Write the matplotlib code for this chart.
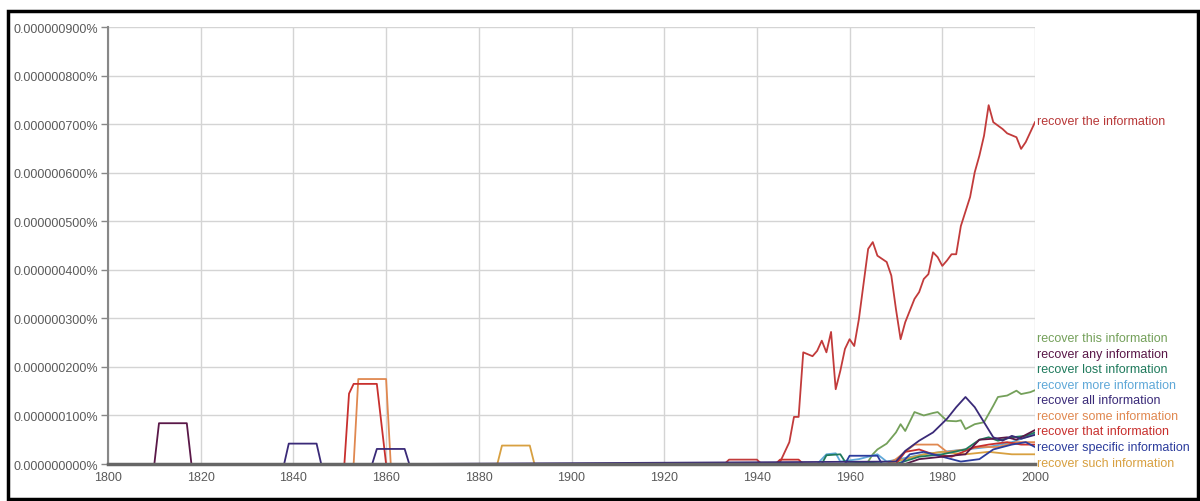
import matplotlib
matplotlib.use('Agg')
import matplotlib.pyplot as plt
from matplotlib.patches import Rectangle

plt.rcParams['font.family'] = ['Liberation Sans', 'DejaVu Sans']

# values in units of 1e-9 percent, (year, value) breakpoints
the_years = [1800, 1933, 1934, 1940, 1941, 1944, 1945, 1947, 1948, 1949, 1950, 1952, 1953, 1954, 1955,
             1956, 1957, 1958, 1959, 1960, 1961, 1962, 1964, 1965, 1966, 1968, 1969, 1970, 1971, 1972,
             1974, 1975, 1976, 1977, 1978, 1979, 1980, 1981, 1982, 1983, 1984, 1985, 1986, 1987, 1988,
             1989, 1990, 1991, 1993, 1994, 1996, 1997, 1998, 2000]
the_vals = [0, 0, 9, 9, 0, 0, 4, 45, 97, 97, 230, 222, 233, 254, 230,
            272, 154, 192, 237, 257, 243, 298, 443, 457, 429, 416, 388, 319, 257, 292,
            340, 354, 381, 391, 436, 426, 408, 419, 432, 432, 490, 520, 550, 601, 635,
            676, 739, 704, 690, 681, 673, 649, 663, 704]

this_years = [1800, 1963, 1964, 1965, 1966, 1968, 1970, 1971, 1972, 1974, 1976, 1978, 1979, 1981,
              1983, 1984, 1985, 1987, 1989, 1991, 1992, 1994, 1996, 1997, 1999, 2000]
this_vals = [0, 0, 5, 20, 30, 42, 65, 82, 68, 107, 100, 105, 107, 89,
             88, 90, 72, 82, 86, 120, 138, 141, 151, 144, 148, 152]

any_years = [1800, 1810, 1811, 1817, 1818, 1972, 1975, 1980, 1985, 1988, 1991, 1994, 1996, 1998, 2000]
any_vals = [0, 0, 84, 84, 0, 0, 10, 15, 20, 50, 52, 55, 50, 60, 70]

lost_years = [1800, 1954, 1955, 1958, 1959, 1970, 1975, 1980, 1985, 1988, 1990, 1992, 1995, 1998, 2000]
lost_vals = [0, 0, 18, 20, 5, 0, 15, 20, 30, 50, 55, 48, 55, 58, 65]

more_years = [1800, 1953, 1955, 1957, 1958, 1962, 1966, 1968, 1976, 1980, 1985, 1990, 1995, 2000]
more_vals = [0, 0, 20, 22, 5, 10, 20, 5, 20, 25, 30, 35, 45, 62]

all_years = [1800, 1838, 1839, 1845, 1846, 1857, 1858, 1864, 1865, 1970, 1972, 1975, 1978, 1981,
             1983, 1985, 1987, 1989, 1991, 1993, 1995, 1997, 2000]
all_vals = [0, 0, 42, 42, 0, 0, 31, 31, 0, 5, 27, 48, 65, 93,
            117, 138, 117, 86, 55, 48, 58, 52, 60]

some_years = [1800, 1853, 1854, 1860, 1861, 1968, 1970, 1974, 1979, 1981, 1985, 1988, 1992, 1996, 2000]
some_vals = [0, 0, 175, 175, 0, 0, 10, 40, 40, 25, 30, 35, 35, 45, 45]

that_years = [1800, 1851, 1852, 1853, 1858, 1860, 1944, 1945, 1949, 1950, 1970, 1972, 1975, 1978,
              1982, 1987, 1990, 1994, 1997, 2000]
that_vals = [0, 0, 145, 165, 165, 0, 0, 9, 9, 0, 0, 25, 30, 20,
             15, 35, 40, 45, 40, 40]

specific_years = [1800, 1959, 1960, 1966, 1967, 1971, 1973, 1976, 1980, 1984, 1988, 1991, 1995, 1998, 2000]
specific_vals = [0, 0, 17, 17, 0, 0, 20, 25, 15, 5, 10, 30, 40, 45, 35]

such_years = [1800, 1884, 1885, 1891, 1892, 1968, 1972, 1976, 1980, 1985, 1990, 1995, 2000]
such_vals = [0, 0, 38, 38, 0, 0, 10, 20, 25, 20, 25, 20, 20]

labels = ['recover this information', 'recover any information', 'recover lost information',
          'recover more information', 'recover all information', 'recover some information',
          'recover that information', 'recover specific information', 'recover such information']
colors = ['#74a05a', '#5a1848', '#1f7a5c', '#5fa8d8', '#3a2a78', '#e08850', '#c8302e', '#2c3c9c', '#d8a040']
series = [(this_years, this_vals), (any_years, any_vals), (lost_years, lost_vals),
          (more_years, more_vals), (all_years, all_vals), (some_years, some_vals),
          (that_years, that_vals), (specific_years, specific_vals), (such_years, such_vals)]

fig = plt.figure(figsize=(12, 5.02), dpi=100)
ax = fig.add_axes([0.09, 0.0737, 0.7725, 0.8705])

# red one underneath, darker ones drawn last so the zero line reads dark
ax.plot(the_years, the_vals, color='#c23b3b', lw=1.3)
draw_order = [0, 3, 8, 5, 6, 2, 7, 1, 4]
for i in draw_order:
    yrs, vals = series[i]
    ax.plot(yrs, vals, color=colors[i], lw=1.3)

ax.set_xlim(1800, 2000)
ax.set_ylim(0, 900)
ax.set_xticks(range(1800, 2001, 20))
ax.set_yticks(range(0, 901, 100))
ax.set_yticklabels(['%.9f%%' % (v * 1e-9) for v in range(0, 901, 100)])
ax.grid(True, color='#d4d4d4', lw=1)
ax.set_axisbelow(True)
for s in ['top', 'right']:
    ax.spines[s].set_visible(False)
ax.spines['left'].set_color('#888888')
ax.spines['left'].set_linewidth(1.5)
ax.spines['bottom'].set_color('#666666')
ax.spines['bottom'].set_linewidth(2.5)
ax.tick_params(axis='y', length=5, width=1, color='#888888', labelcolor='#5a5a5a', labelsize=9, pad=2)
ax.tick_params(axis='x', length=0, labelcolor='#5a5a5a', labelsize=9, pad=5)

# labels at the right end
ax.text(2000.5, 706, 'recover the information', color='#b83838', fontsize=9,
        va='center', ha='left', clip_on=False)
for i, (lab, c) in enumerate(zip(labels, colors)):
    ax.text(2000.5, 259 - i * 32, lab, color=c, fontsize=9, va='center', ha='left', clip_on=False)

# frame around the picture
fig.patches.append(Rectangle((0.007, 0.004), 0.991, 0.972, transform=fig.transFigure,
                             fill=False, edgecolor='black', lw=2.5))

fig.savefig('out.png', dpi=100)
